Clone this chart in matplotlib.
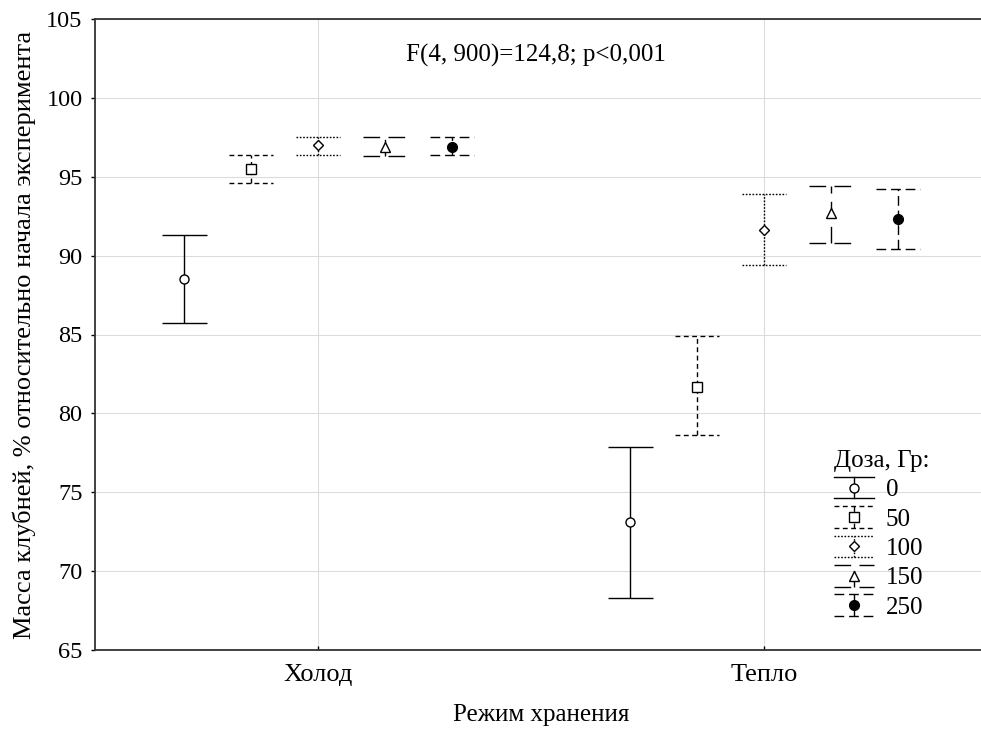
import matplotlib
matplotlib.use("Agg")
import matplotlib.pyplot as plt
from matplotlib.legend_handler import HandlerBase
from matplotlib.lines import Line2D

plt.rcParams["font.family"] = ["Liberation Serif", "DejaVu Serif"]
plt.rcParams["lines.scale_dashes"] = False

# --- data ---
regimes = ["Холод", "Тепло"]
doses = ["0", "50", "100", "150", "250"]

mean_holod = [88.5, 95.5, 97.0, 96.9, 96.9]
low_holod = [85.7, 94.6, 96.4, 96.3, 96.4]
high_holod = [91.3, 96.4, 97.5, 97.5, 97.5]

mean_teplo = [73.1, 81.7, 91.6, 92.7, 92.3]
low_teplo = [68.3, 78.6, 89.4, 90.8, 90.4]
high_teplo = [77.9, 84.9, 93.9, 94.4, 94.2]

stat_text = "F(4, 900)=124,8; p<0,001"

# --- styles per dose ---
offsets = [-0.3, -0.15, 0.0, 0.15, 0.3]
markers = ["o", "s", "D", "^", "o"]
marker_sizes = [6.5, 6.5, 5, 6.5, 7]
fills = ["white", "white", "white", "white", "black"]
styles = ["-", (0, (3.5, 2.5)), (0, (1.2, 1.2)), (0, (12, 6)), (0, (7, 3.5))]
cap_w = 0.1
lw = 1.0


class ErrbarHandler(HandlerBase):
    """legend glyph: small vertical error bar with caps and marker"""

    def create_artists(self, legend, orig_handle, xdescent, ydescent,
                       width, height, fontsize, trans):
        dash = orig_handle._style
        x0, y0 = -xdescent, -ydescent
        xc, yc = x0 + width / 2, y0 + height / 2
        arts = [
            Line2D([xc, xc], [y0, y0 + height], color="black", lw=lw, ls=dash),
            Line2D([x0, x0 + width], [y0, y0], color="black", lw=lw, ls=dash),
            Line2D([x0, x0 + width], [y0 + height, y0 + height], color="black",
                   lw=lw, ls=dash),
            Line2D([xc], [yc], marker=orig_handle.get_marker(), ls="none",
                   ms=orig_handle.get_markersize(), mfc=orig_handle.get_markerfacecolor(),
                   mec="black", mew=1.0),
        ]
        for a in arts:
            a.set_transform(trans)
        return arts


fig = plt.figure(figsize=(9.81, 7.29), dpi=100)
ax = fig.add_axes([95 / 981, 79 / 729, 892 / 981, 631 / 729])

groups = [(mean_holod, low_holod, high_holod), (mean_teplo, low_teplo, high_teplo)]
for gi, (means, lows, highs) in enumerate(groups):
    for i in range(len(doses)):
        x = gi + 1 + offsets[i]
        m, lo, hi = means[i], lows[i], highs[i]
        eb = ax.errorbar([x], [m], yerr=[[m - lo], [hi - m]], fmt="none",
                         ecolor="black", elinewidth=lw, capsize=0, zorder=3)
        eb[2][0].set_linestyle(styles[i])
        ax.hlines([lo, hi], x - cap_w / 2, x + cap_w / 2, colors="black",
                  linewidth=lw, linestyles=[styles[i]], zorder=3)
        ax.plot([x], [m], marker=markers[i], ms=marker_sizes[i], mfc=fills[i],
                mec="black", mew=1.0, ls="none", zorder=4)

handles = []
for i in range(len(doses)):
    h = Line2D([], [], marker=markers[i], ms=marker_sizes[i], mfc=fills[i],
               color="black")
    h._style = styles[i]
    handles.append(h)

leg = ax.legend(handles, doses, title="Доза, Гр:", handler_map={Line2D: ErrbarHandler()},
                loc="upper left", bbox_to_anchor=(0.815, 0.337), frameon=False,
                fontsize=18, title_fontsize=18, handlelength=1.6, handleheight=0.95,
                labelspacing=0.2, handletextpad=0.45, borderpad=0, alignment="left")

ax.text(1.489, 102.7, stat_text, ha="center", va="center", fontsize=18)

ax.set_xlim(0.5, 2.5)
ax.set_ylim(65, 105)
ax.set_xticks([1, 2])
ax.set_xticklabels(regimes)
ax.set_yticks(range(65, 106, 5))
ax.tick_params(axis="y", direction="out", length=3, width=1, pad=6, labelsize=17.5)
ax.tick_params(axis="x", direction="in", length=3, width=1, pad=10, labelsize=19)
ax.grid(True, color="#dcdcdc", lw=0.8)
ax.set_axisbelow(True)
for s in ax.spines.values():
    s.set_linewidth(1.3)
    s.set_color("#333333")

ax.set_xlabel("Режим хранения", fontsize=18)
ax.xaxis.set_label_coords(0.5, -0.085)
ax.set_ylabel("Масса клубней, % относительно начала эксперимента", fontsize=19)
ax.yaxis.set_label_coords(-0.066, 0.5)

fig.savefig("out.png", dpi=100)
